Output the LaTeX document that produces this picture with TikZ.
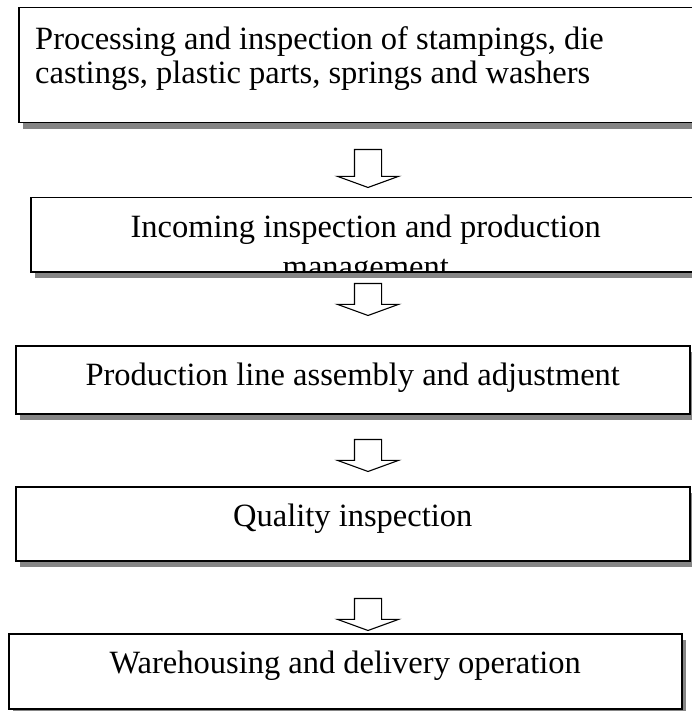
\documentclass[tikz,border=0pt]{standalone}
\usepackage{fontspec}
\setmainfont{Liberation Serif}
\usetikzlibrary{positioning,shapes.arrows,shadows}

\begin{document}
\begin{tikzpicture}[x=1pt, y=-1pt,
	font=\fontsize{32.5pt}{34pt}\selectfont,
	stage/.style = { rectangle, draw=black, line width=1.5pt, fill=white,
	inner sep=0pt, anchor=north west,
	general shadow={fill=black!48, shadow xshift=4pt, shadow yshift=-6pt} },
	boxtext/.style = { inner sep=0pt },
	flowarrow/.style = { single arrow, draw=black, line width=1.1pt,
	fill=white, shape border rotate=270, inner sep=13pt,
	single arrow head extend=17pt, single arrow tip angle=140,
	minimum height=#1 } ]

  \useasboundingbox (0,0) rectangle (691,711);

  % the five stages, top to bottom
  \node [name=box1, stage, minimum width=720pt, minimum height=115pt]
	at (18,7) {};
  \node [name=txt1, boxtext, anchor=north west, align=left] at (35,26)
	{Processing and inspection of stampings, die\\
	 castings, plastic parts, springs and washers};

  \node [name=box2, stage, minimum width=670pt, minimum height=74pt]
	at (30,197) {};
  \begin{scope}
    \clip (box2.north west) rectangle (box2.south east);
    \node [name=txt2, boxtext, anchor=north, align=center,
	font=\fontsize{32.5pt}{40pt}\selectfont]
	at ([yshift=-18pt]box2.north)
	{Incoming inspection and production\\management};
  \end{scope}

  \node [name=box3, stage, minimum width=674pt, minimum height=68pt]
	at (15,345) {};
  \node [name=txt3, boxtext, anchor=base] at ([yshift=-40pt]box3.north)
	{Production line assembly and adjustment};

  \node [name=box4, stage, minimum width=674pt, minimum height=74pt]
	at (15,486) {};
  \node [name=txt4, boxtext, anchor=base] at ([yshift=-40pt]box4.north)
	{Quality inspection};

  \node [name=box5, stage, minimum width=673pt, minimum height=75pt]
	at (8,633) {};
  \node [name=txt5, boxtext, anchor=base] at ([yshift=-40pt]box5.north)
	{Warehousing and delivery operation};

  % hollow arrows between the stages
  \node [name=arr1, flowarrow=38pt] at (368,166) {};
  \node [name=arr2, flowarrow=30pt] at (368,297) {};
  \node [name=arr3, flowarrow=30pt] at (368,453) {};
  \node [name=arr4, flowarrow=30pt] at (368,612) {};
\end{tikzpicture}
\end{document}
